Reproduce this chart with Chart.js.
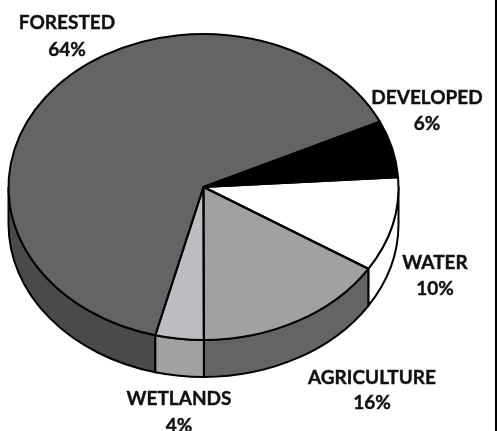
<!DOCTYPE html>
<html>
<head>
<meta charset="utf-8">
<title>Land cover</title>
<script src="https://cdn.jsdelivr.net/npm/chart.js@4"></script>
<style>
  html, body { margin: 0; padding: 0; background: #fff; }
  canvas { display: block; }
</style>
</head>
<body>
<canvas id="myChart" width="497" height="431"></canvas>
<script>
const categories = ["FORESTED", "DEVELOPED", "WATER", "AGRICULTURE", "WETLANDS"];
const percents = [64, 6, 10, 16, 4];
const topColors = ["#636466", "#000000", "#ffffff", "#a0a1a3", "#bcbdc0"];
const wallColors = ["#4a4a4c", "#000000", "#ffffff", "#636466", "#a0a1a3"];
const labelX = [67, 427, 435, 372, 179];
const labelY = [23, 98, 263, 378, 399];
const valueY = [50, 124, 289, 403, 426];

// pie is drawn as a circle by chart.js, then squashed into an ellipse
const squash = 153 / 195;
const centerY = 187;
const depth = 37;

function onePath(ctx, arc, from, to, offset) {
  ctx.ellipse(arc.x, centerY + offset, arc.outerRadius, arc.outerRadius * squash, 0, from, to);
}

const pie3d = {
  id: "pie3d",
  beforeDatasetsDraw(chart) {
    const ctx = chart.ctx;
    const arcs = chart.getDatasetMeta(0).data;
    ctx.save();
    ctx.lineWidth = 2;
    ctx.strokeStyle = "#000";
    arcs.forEach((arc, i) => {
      // only the front half of the rim can be seen
      let start = arc.startAngle;
      let end = arc.endAngle;
      for (const shift of [0, Math.PI * 2, -Math.PI * 2]) {
        const from = Math.max(start + shift, 0);
        const to = Math.min(end + shift, Math.PI);
        if (to <= from) continue;
        ctx.beginPath();
        onePath(ctx, arc, from, to, 0);
        ctx.ellipse(arc.x, centerY + depth, arc.outerRadius, arc.outerRadius * squash, 0, to, from, true);
        ctx.closePath();
        ctx.fillStyle = wallColors[i];
        ctx.fill();
        ctx.stroke();
      }
    });
    ctx.restore();

    ctx.save();
    ctx.translate(0, centerY);
    ctx.scale(1, squash);
    ctx.translate(0, -arcs[0].y);
  },
  afterDatasetsDraw(chart) {
    const ctx = chart.ctx;
    ctx.restore();
    const arcs = chart.getDatasetMeta(0).data;
    ctx.save();
    ctx.lineWidth = 2;
    ctx.lineJoin = "round";
    ctx.strokeStyle = "#000";
    arcs.forEach((arc) => {
      ctx.beginPath();
      ctx.moveTo(arc.x, centerY);
      onePath(ctx, arc, arc.startAngle, arc.endAngle, 0);
      ctx.closePath();
      ctx.stroke();
    });
    ctx.restore();
  },
  afterDraw(chart) {
    const ctx = chart.ctx;
    ctx.save();
    ctx.fillStyle = "#000";
    ctx.fillRect(495, 0, 2, 431);
    ctx.fillStyle = "#111";
    ctx.strokeStyle = "#111";
    ctx.lineWidth = 0.4;
    ctx.font = "bold 19px Lato";
    ctx.textAlign = "center";
    ctx.textBaseline = "middle";
    categories.forEach((name, i) => {
      ctx.fillText(name, labelX[i], labelY[i]);
      ctx.strokeText(name, labelX[i], labelY[i]);
      ctx.fillText(percents[i] + "%", labelX[i], valueY[i]);
      ctx.strokeText(percents[i] + "%", labelX[i], valueY[i]);
    });
    ctx.restore();
  },
};

const config = {
  type: "pie",
  data: {
    labels: categories,
    datasets: [
      {
        data: percents,
        backgroundColor: topColors,
        borderWidth: 0,
      },
    ],
  },
  options: {
    responsive: false,
    animation: false,
    rotation: 194.3,
    layout: { padding: { left: 8.5, right: 98.5, top: 20, bottom: 21 } },
    events: [],
    plugins: { legend: { display: false }, tooltip: { enabled: false } },
  },
  plugins: [pie3d],
};

new Chart(document.getElementById("myChart"), config);
</script>
</body>
</html>
